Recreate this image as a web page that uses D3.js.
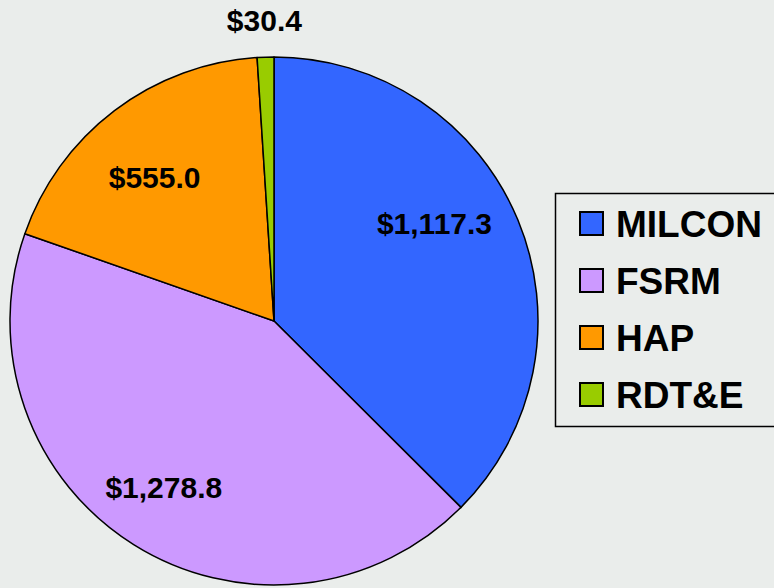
<!DOCTYPE html>
<html>
<head>
<meta charset="utf-8">
<script src="https://cdn.jsdelivr.net/npm/d3@7"></script>
<style>
  html, body { margin: 0; padding: 0; background: #eaedeb; }
  svg { display: block; }
</style>
</head>
<body>
<script>
// ---- data ----
const categories = ["MILCON", "FSRM", "HAP", "RDT&E"];
const values = [1117.3, 1278.8, 555.0, 30.4];
const valueLabels = ["$1,117.3", "$1,278.8", "$555.0", "$30.4"];

// ---- styles ----
const colors = ["#3366ff", "#cc99ff", "#ff9900", "#99cc00"];
const labelRadius = [190, 196, 186, 301];
const labelNudge = [[-15, -25], [-6, 0], [-7, 4], [0, 0]];

const W = 774, H = 588;
const cx = 274, cy = 321, R = 264;

const svg = d3.select("body").append("svg")
  .attr("width", W).attr("height", H);

svg.append("rect").attr("width", W).attr("height", H).attr("fill", "#eaedeb");

const data = categories.map((c, i) => ({ name: c, value: values[i], label: valueLabels[i], i }));

const pie = d3.pie().sort(null).value(d => d.value);
const arcs = pie(data);
const arc = d3.arc().innerRadius(0).outerRadius(R);

const g = svg.append("g").attr("transform", `translate(${cx},${cy})`);

g.selectAll("path.slice").data(arcs).enter().append("path")
  .attr("class", "slice")
  .attr("d", arc)
  .attr("fill", d => colors[d.data.i])
  .attr("stroke", "#000")
  .attr("stroke-width", 1.5)
  .attr("stroke-linejoin", "round");

g.selectAll("text.lbl").data(arcs).enter().append("text")
  .attr("class", "lbl")
  .attr("transform", d => {
    const a = (d.startAngle + d.endAngle) / 2;
    const r = labelRadius[d.data.i];
    const n = labelNudge[d.data.i];
    return `translate(${r * Math.sin(a) + n[0]},${-r * Math.cos(a) + n[1]})`;
  })
  .attr("text-anchor", "middle")
  .attr("dy", "0.36em")
  .attr("font-family", "'Liberation Sans', Arial, sans-serif")
  .attr("font-weight", "bold")
  .attr("font-size", 30)
  .attr("fill", "#000")
  .text(d => d.data.label);

// ---- legend ----
const lg = svg.append("g");
lg.append("rect")
  .attr("x", 555.5).attr("y", 193.5)
  .attr("width", 230).attr("height", 233)
  .attr("fill", "none").attr("stroke", "#000").attr("stroke-width", 1.5);

const rowY = d3.scalePoint().domain(categories).range([237, 408]);

const rows = lg.selectAll("g.row").data(data).enter().append("g")
  .attr("class", "row")
  .attr("transform", d => `translate(0,${rowY(d.name)})`);

rows.append("rect")
  .attr("x", 580).attr("y", -25)
  .attr("width", 23).attr("height", 23)
  .attr("fill", d => colors[d.i])
  .attr("stroke", "#000").attr("stroke-width", 2);

rows.append("text")
  .attr("x", 616).attr("y", 0)
  .attr("font-family", "'Liberation Sans', Arial, sans-serif")
  .attr("font-weight", "bold")
  .attr("font-size", 37)
  .attr("fill", "#000")
  .text(d => d.name);
</script>
</body>
</html>
